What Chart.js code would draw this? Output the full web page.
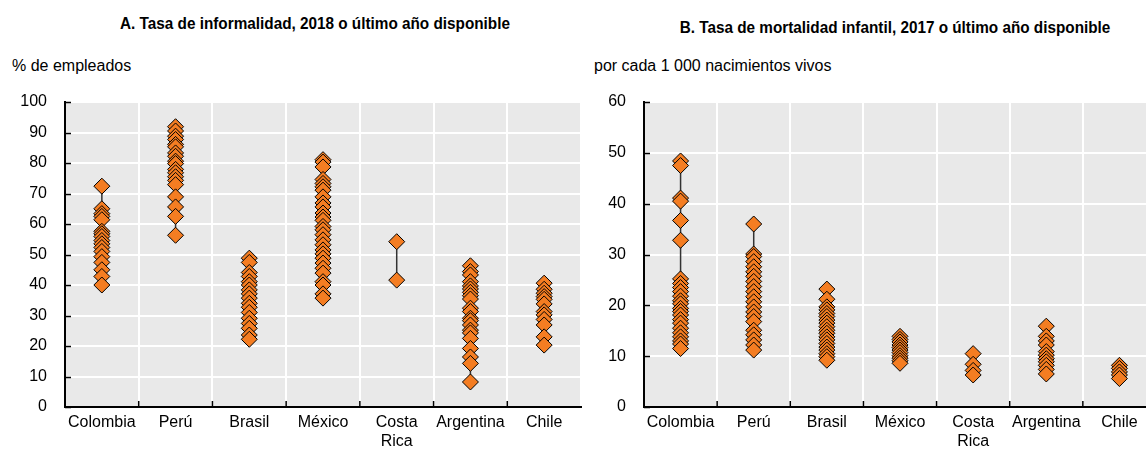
<!DOCTYPE html>
<html>
<head>
<meta charset="utf-8">
<script src="https://cdn.jsdelivr.net/npm/chart.js@4.4.1/dist/chart.umd.min.js"></script>
<style>
  html, body { margin:0; padding:0; background:#fff; width:1146px; height:453px; overflow:hidden; }
  body { position:relative; font-family:'Liberation Sans Narrow','Arial Narrow','Liberation Sans',Arial,sans-serif; color:#000; }
  .title { position:absolute; font-weight:bold; font-size:17px; white-space:nowrap; transform:translateX(-50%) scaleX(0.9); transform-origin:center; }
  .unit { position:absolute; font-size:16px; white-space:nowrap; }
  .box { position:absolute; top:0; height:453px; }
</style>
</head>
<body>
<div class="title" style="left:315px; top:14px;">A. Tasa de informalidad, 2018 o último año disponible</div>
<div class="title" style="left:895px; top:18px;">B. Tasa de mortalidad infantil, 2017 o último año disponible</div>
<div class="unit" style="left:12px; top:57px;">% de empleados</div>
<div class="unit" style="left:594px; top:57px;">por cada 1 000 nacimientos vivos</div>
<div class="box" style="left:0px; width:590px;"><canvas id="cA"></canvas></div>
<div class="box" style="left:580px; width:590px;"><canvas id="cB"></canvas></div>
<script>
const categories = ['Colombia','Perú','Brasil','México','Costa Rica','Argentina','Chile'];
const tickLabels = ['Colombia','Perú','Brasil','México',['Costa','Rica'],'Argentina','Chile'];

// Panel A: informality rate (% of employed), by subnational region
const informColombia = [72.4,65.0,63.4,62.5,61.4,57.6,56.8,55.9,54.6,53.5,52.3,51.0,49.3,47.4,45.0,42.8,40.0];
const informPeru = [91.9,90.5,88.8,87.7,86.1,85.3,83.3,82.2,80.6,79.8,77.9,76.8,75.5,74.3,72.9,68.9,65.6,62.5,56.3];
const informBrasil = [48.8,47.4,44.1,42.8,41.1,40.0,38.4,37.1,35.7,34.0,32.7,31.0,29.1,27.4,25.8,23.6,22.2];
const informMexico = [81.1,80.3,78.7,74.6,73.3,72.2,71.1,68.9,66.9,65.6,63.6,62.3,61.2,59.2,58.1,56.5,54.8,53.2,51.5,50.2,48.8,47.2,45.5,43.9,41.1,40.0,37.1,35.7];
const informCostaRica = [54.2,41.6];
const informArgentina = [46.3,44.4,43.3,41.1,39.7,38.7,37.6,36.5,35.4,32.4,31.3,29.1,28.3,26.9,25.2,24.3,22.5,19.2,16.4,14.3,8.2];
const informChile = [40.6,38.6,37.3,36.2,35.3,33.8,31.3,30.2,28.7,26.9,23.0,20.3];

// Panel B: infant mortality (per 1 000 live births)
const mortColombia = [48.4,47.5,41.1,40.5,36.7,32.8,25.2,24.3,23.5,22.7,21.8,20.9,20.3,19.4,18.8,18.1,17.2,16.5,15.5,14.6,13.8,13.0,12.4,11.5];
const mortPeru = [36.0,30.1,29.6,28.6,27.6,26.6,25.7,24.7,23.7,22.7,21.7,20.7,19.7,18.7,17.8,16.8,15.1,14.2,13.2,12.2,11.2];
const mortBrasil = [23.2,21.2,19.7,19.1,18.4,17.8,17.1,16.5,15.8,15.1,14.5,13.8,13.2,12.5,11.8,11.2,10.5,9.9,9.2];
const mortMexico = [13.9,13.3,12.8,12.2,11.7,11.2,10.7,10.1,9.6,9.1,8.6];
const mortCostaRica = [10.5,8.4,7.2,6.3];
const mortArgentina = [15.9,13.9,13.0,12.2,10.9,10.2,9.5,8.9,8.2,7.4,6.5];
const mortChile = [8.2,7.6,6.9,6.3,5.6];

const yTicksA = [0,10,20,30,40,50,60,70,80,90,100];
const yTicksB = [0,10,20,30,40,50,60];

const FONT = "'Liberation Sans Narrow','Arial Narrow','Liberation Sans',Arial,sans-serif";
const ORANGE = '#F47D22';

function buildDatasets(series) {
  const ds = [];
  series.forEach((vals, i) => {
    const cat = categories[i];
    ds.push({
      type: 'line',
      data: [{x: cat, y: Math.min(...vals)}, {x: cat, y: Math.max(...vals)}],
      borderColor: '#333333', borderWidth: 1.5, pointRadius: 0, order: 2
    });
  });
  const pts = [];
  series.forEach((vals, i) => vals.forEach(v => pts.push({x: categories[i], y: v})));
  ds.push({
    type: 'scatter', data: pts, pointStyle: 'rectRot', pointRadius: 8,
    backgroundColor: ORANGE, borderColor: '#000', borderWidth: 1, order: 1
  });
  return ds;
}

const bgPlugin = {
  id: 'bgPlugin',
  beforeDraw(chart) {
    const {ctx, chartArea: a} = chart;
    ctx.save();
    ctx.fillStyle = '#E9E9E9';
    ctx.fillRect(a.left, a.top, a.right - a.left, a.bottom - a.top);
    ctx.restore();
  },
  beforeDatasetsDraw(chart) {
    // inward tick marks at the axes
    const {ctx, chartArea: a, scales} = chart;
    ctx.save();
    ctx.strokeStyle = '#000'; ctx.lineWidth = 1.5;
    scales.y.ticks.forEach(t => {
      const y = Math.round(scales.y.getPixelForValue(t.value)) + 0.5;
      ctx.beginPath(); ctx.moveTo(a.left, y); ctx.lineTo(a.left + 6, y); ctx.stroke();
    });
    for (let i = 1; i < categories.length; i++) {
      const x = (scales.x.getPixelForValue(i - 1) + scales.x.getPixelForValue(i)) / 2;
      ctx.beginPath(); ctx.moveTo(x, a.bottom); ctx.lineTo(x, a.bottom - 6); ctx.stroke();
    }
    ctx.restore();
  }
};

function makeChart(id, series, yTicks, yMax, yAxisWidth, padRight) {
  return new Chart(document.getElementById(id), {
    data: { labels: categories, datasets: buildDatasets(series) },
    options: {
      responsive: true, maintainAspectRatio: false, animation: false,
      layout: { padding: { top: 102, bottom: 0, left: 0, right: padRight } },
      plugins: { legend: { display: false }, tooltip: { enabled: false } },
      scales: {
        x: {
          type: 'category', labels: categories, offset: true,
          grid: { offset: true, color: '#FFFFFF', lineWidth: 2, drawTicks: false },
          border: { color: '#000', width: 2 },
          ticks: {
            color: '#000', font: { family: FONT, size: 16 }, padding: 6, maxRotation: 0, autoSkip: false,
            callback: (v, i) => tickLabels[i]
          },
          afterFit: s => { s.height = 46; }
        },
        y: {
          min: 0, max: yMax,
          afterBuildTicks: s => { s.ticks = yTicks.map(v => ({value: v})); },
          grid: { color: '#FFFFFF', lineWidth: 2, drawTicks: false },
          border: { color: '#000', width: 2 },
          ticks: { color: '#000', font: { family: FONT, size: 16 }, padding: 18 },
          afterFit: s => { s.width = yAxisWidth; }
        }
      }
    },
    plugins: [bgPlugin]
  });
}

const seriesA = [informColombia, informPeru, informBrasil, informMexico, informCostaRica, informArgentina, informChile];
const seriesB = [mortColombia, mortPeru, mortBrasil, mortMexico, mortCostaRica, mortArgentina, mortChile];
const chartA = makeChart('cA', seriesA, yTicksA, 100, 65, 9);
const chartB = makeChart('cB', seriesB, yTicksB, 60, 64, 14);
</script>
</body>
</html>
